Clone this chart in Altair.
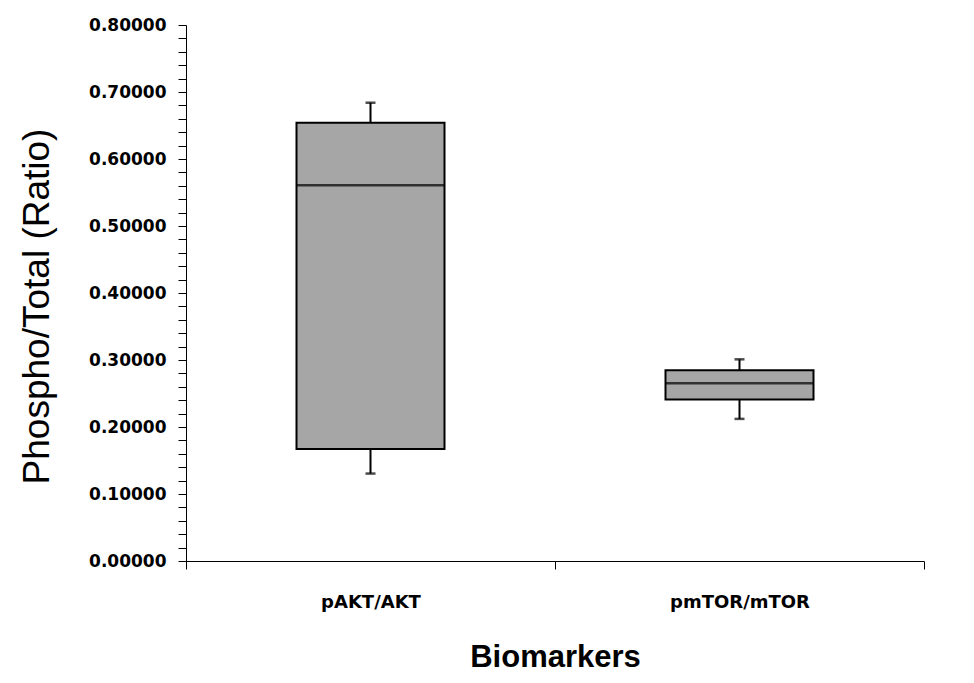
import altair as alt
import pandas as pd

categories = ["pAKT/AKT", "pmTOR/mTOR"]
whisker_low = [0.1305, 0.2121]
q1 = [0.1670, 0.2411]
median = [0.5608, 0.2654]
q3 = [0.6540, 0.2848]
whisker_high = [0.6840, 0.3010]
y_tick_values = [round(i * 0.02, 2) for i in range(41)]

df = pd.DataFrame({
    "cat": categories,
    "lo": whisker_low,
    "q1": q1,
    "med": median,
    "q3": q3,
    "hi": whisker_high,
})

x = alt.X("cat:N", sort=categories,
          scale=alt.Scale(paddingInner=0, paddingOuter=0),
          axis=alt.Axis(title="Biomarkers", labelAngle=0, tickBand="extent",
                        tickSize=8, tickColor="black", domainColor="black",
                        labelFont="DejaVu Sans", labelFontWeight="bold", labelFontSize=18,
                        labelColor="black", labelPadding=24,
                        titleFont="Liberation Sans", titleFontWeight="bold", titleFontSize=31,
                        titleColor="black", titleBaseline="alphabetic", titleY=105,
                        grid=False))

yscale = alt.Scale(domain=[0, 0.8], nice=False, zero=True)
yaxis = alt.Axis(title="Phospho/Total (Ratio)", values=y_tick_values,
                 labelExpr="round(datum.value*100) % 10 == 0 ? format(datum.value, '.5f') : ''",
                 tickSize=8, tickColor="black", domainColor="black",
                 labelFont="DejaVu Sans", labelFontWeight="bold", labelFontSize=17,
                 labelColor="black", labelPadding=12,
                 titleFont="Liberation Sans", titleFontWeight="normal", titleFontSize=37,
                 titleColor="black", titleBaseline="alphabetic", titleX=-138, titleY=281,
                 titleAlign="center", grid=False)

base = alt.Chart(df)

whisk = base.mark_rule(color="black", strokeWidth=2).encode(
    x=x, y=alt.Y("lo:Q", scale=yscale, axis=yaxis), y2="hi:Q")
box = base.mark_bar(size=148, color="#a6a6a6", stroke="black", strokeWidth=2).encode(
    x=x, y=alt.Y("q1:Q", scale=yscale, axis=yaxis), y2="q3:Q")
med = base.mark_tick(size=148, thickness=2.5, color="black").encode(
    x=x, y=alt.Y("med:Q", scale=yscale, axis=yaxis))
cap_lo = base.mark_tick(size=10, thickness=2.5, color="black").encode(
    x=x, y=alt.Y("lo:Q", scale=yscale, axis=yaxis))
cap_hi = base.mark_tick(size=10, thickness=2.5, color="black").encode(
    x=x, y=alt.Y("hi:Q", scale=yscale, axis=yaxis))

chart = alt.layer(whisk, box, med, cap_lo, cap_hi).properties(
    width=738, height=536,
    autosize=alt.AutoSizeParams(type="none"),
    padding={"left": 178, "top": 17, "right": 42, "bottom": 114},
    background="white",
).configure_view(stroke=None)

chart.save("out.html", embed_options={"renderer": "svg", "actions": False})
